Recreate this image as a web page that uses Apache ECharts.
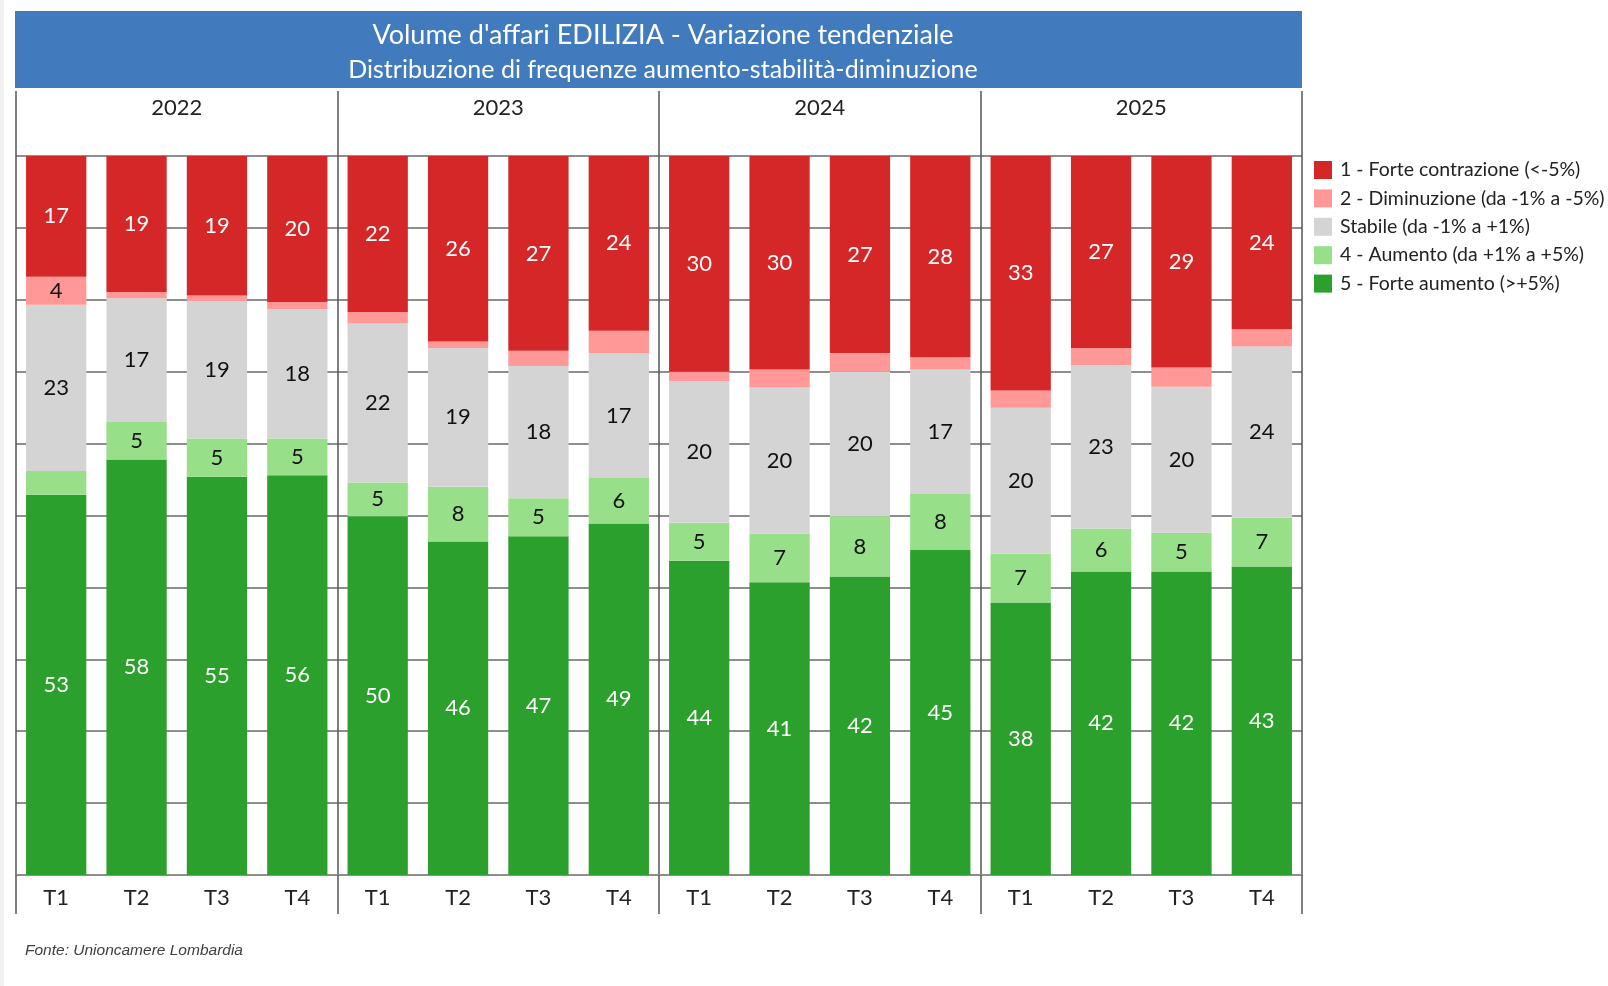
<!DOCTYPE html>
<html>
<head>
<meta charset="utf-8">
<title>Volume d'affari EDILIZIA</title>
<script src="https://cdn.jsdelivr.net/npm/echarts@6/dist/echarts.min.js"></script>
<style>
  html, body { margin: 0; padding: 0; background: #fff; }
  #strip { position: absolute; left: 0; top: 0; width: 4px; height: 986px; background: #f0f0f0; }
  #main { width: 1608px; height: 986px; }
</style>
</head>
<body>
<div id="strip"></div>
<div id="main"></div>
<script>
// anni e trimestri
const years = ['2022', '2023', '2024', '2025']
const quarters = ['T1', 'T2', 'T3', 'T4']
const categories = []
years.forEach(y => quarters.forEach(q => categories.push(y + ' ' + q)))

const seriesNames = [
  '1 - Forte contrazione (<-5%)',
  '2 - Diminuzione (da -1% a -5%)',
  'Stabile (da -1% a +1%)',
  '4 - Aumento (da +1% a +5%)',
  '5 - Forte aumento (>+5%)'
]

// quote % (etichette arrotondate)
const forteContrazione = [16.8, 18.9, 19.4, 20.3, 21.7, 25.8, 27.1, 24.3, 30.0, 29.7, 27.4, 28.0, 32.6, 26.7, 29.4, 24.1]
const diminuzione      = [3.9, 0.9, 0.8, 1.0, 1.6, 0.9, 2.1, 3.1, 1.3, 2.5, 2.6, 1.7, 2.4, 2.4, 2.7, 2.4]
const stabile          = [23.1, 17.2, 19.1, 18.0, 22.1, 19.3, 18.4, 17.4, 19.7, 20.3, 20.1, 17.3, 20.3, 22.7, 20.3, 23.8]
const aumento          = [3.3, 5.2, 5.3, 5.1, 4.7, 7.6, 5.3, 6.3, 5.3, 6.8, 8.4, 7.8, 6.8, 6.0, 5.4, 6.8]
const forteAumento     = [52.9, 57.8, 55.4, 55.6, 49.9, 46.4, 47.1, 48.9, 43.7, 40.7, 41.5, 45.2, 37.9, 42.2, 42.2, 42.9]

const colors = ['#d62728', '#ff9896', '#d4d4d4', '#98df8a', '#2ca02c']
const labelColors = ['#fff', '#111', '#111', '#111', '#fff']
const font = 'Lato, "Open Sans", sans-serif'

function barSeries(idx, data) {
  return {
    name: seriesNames[idx],
    type: 'bar',
    stack: 'tot',
    xAxisIndex: 0,
    barCategoryGap: '25%',
    itemStyle: { color: colors[idx] },
    label: {
      show: true,
      position: 'inside',
      color: labelColors[idx],
      fontFamily: font,
      fontSize: 22,
      formatter: p => (Math.round(p.value) >= 4 ? String(Math.round(p.value)) : '')
    },
    emphasis: { disabled: true },
    data: data
  }
}

const chart = echarts.init(document.getElementById('main'))

const option = {
  animation: false,
  title: [{
    text: "Volume d'affari EDILIZIA - Variazione tendenziale",
    subtext: 'Distribuzione di frequenze aumento-stabilità-diminuzione',
    left: 658,
    top: 17,
    textAlign: 'center',
    itemGap: 8,
    textStyle: { color: '#fff', fontFamily: font, fontSize: 27, fontWeight: 'normal' },
    subtextStyle: { color: '#fff', fontFamily: font, fontSize: 25 }
  }, {
    text: 'Fonte: Unioncamere Lombardia',
    left: 20,
    top: 938,
    textStyle: { color: '#404040', fontFamily: '"Liberation Sans", Arial, sans-serif', fontSize: 15.5, fontStyle: 'italic', fontWeight: 'normal' }
  }],
  graphic: [{
    type: 'rect',
    z: -1,
    shape: { x: 15, y: 11, width: 1287, height: 77 },
    style: { fill: '#417bbe' }
  }],
  legend: {
    orient: 'vertical',
    left: 1314,
    top: 160,
    padding: 0,
    itemWidth: 18,
    itemHeight: 18,
    itemGap: 8.4,
    icon: 'rect',
    data: seriesNames,
    selectedMode: false,
    textStyle: { color: '#222', fontFamily: font, fontSize: 19.5, lineHeight: 20, padding: [0, 0, 0, 3] }
  },
  grid: { left: 16, right: 306, top: 156, bottom: 111 },
  xAxis: [{
    type: 'category',
    data: categories,
    position: 'bottom',
    axisLine: { lineStyle: { color: '#8e8e8e', width: 2 } },
    axisTick: { show: false },
    axisLabel: { color: '#222', fontFamily: font, fontSize: 22, margin: 12, formatter: v => v.split(' ')[1] }
  }, {
    type: 'category',
    data: years,
    position: 'top',
    axisLine: { show: false },
    axisTick: { show: true, length: 65, lineStyle: { color: '#555', width: 1.5 } },
    axisLabel: { color: '#222', fontFamily: font, fontSize: 22, margin: 37 },
    splitLine: { show: true, lineStyle: { color: '#555', width: 1.5 } }
  }, {
    type: 'category',
    data: years,
    position: 'bottom',
    axisLine: { show: false },
    axisTick: { show: true, length: 39, lineStyle: { color: '#555', width: 1.5 } },
    axisLabel: { show: false }
  }],
  yAxis: {
    type: 'value',
    min: 0,
    max: 100,
    interval: 10,
    axisLabel: { show: false },
    axisLine: { show: false },
    axisTick: { show: false },
    splitLine: { lineStyle: { color: '#8e8e8e', width: 2 } }
  },
  series: [
    barSeries(4, forteAumento),
    barSeries(3, aumento),
    barSeries(2, stabile),
    barSeries(1, diminuzione),
    barSeries(0, forteContrazione)
  ]
}

chart.setOption(option)
</script>
</body>
</html>
